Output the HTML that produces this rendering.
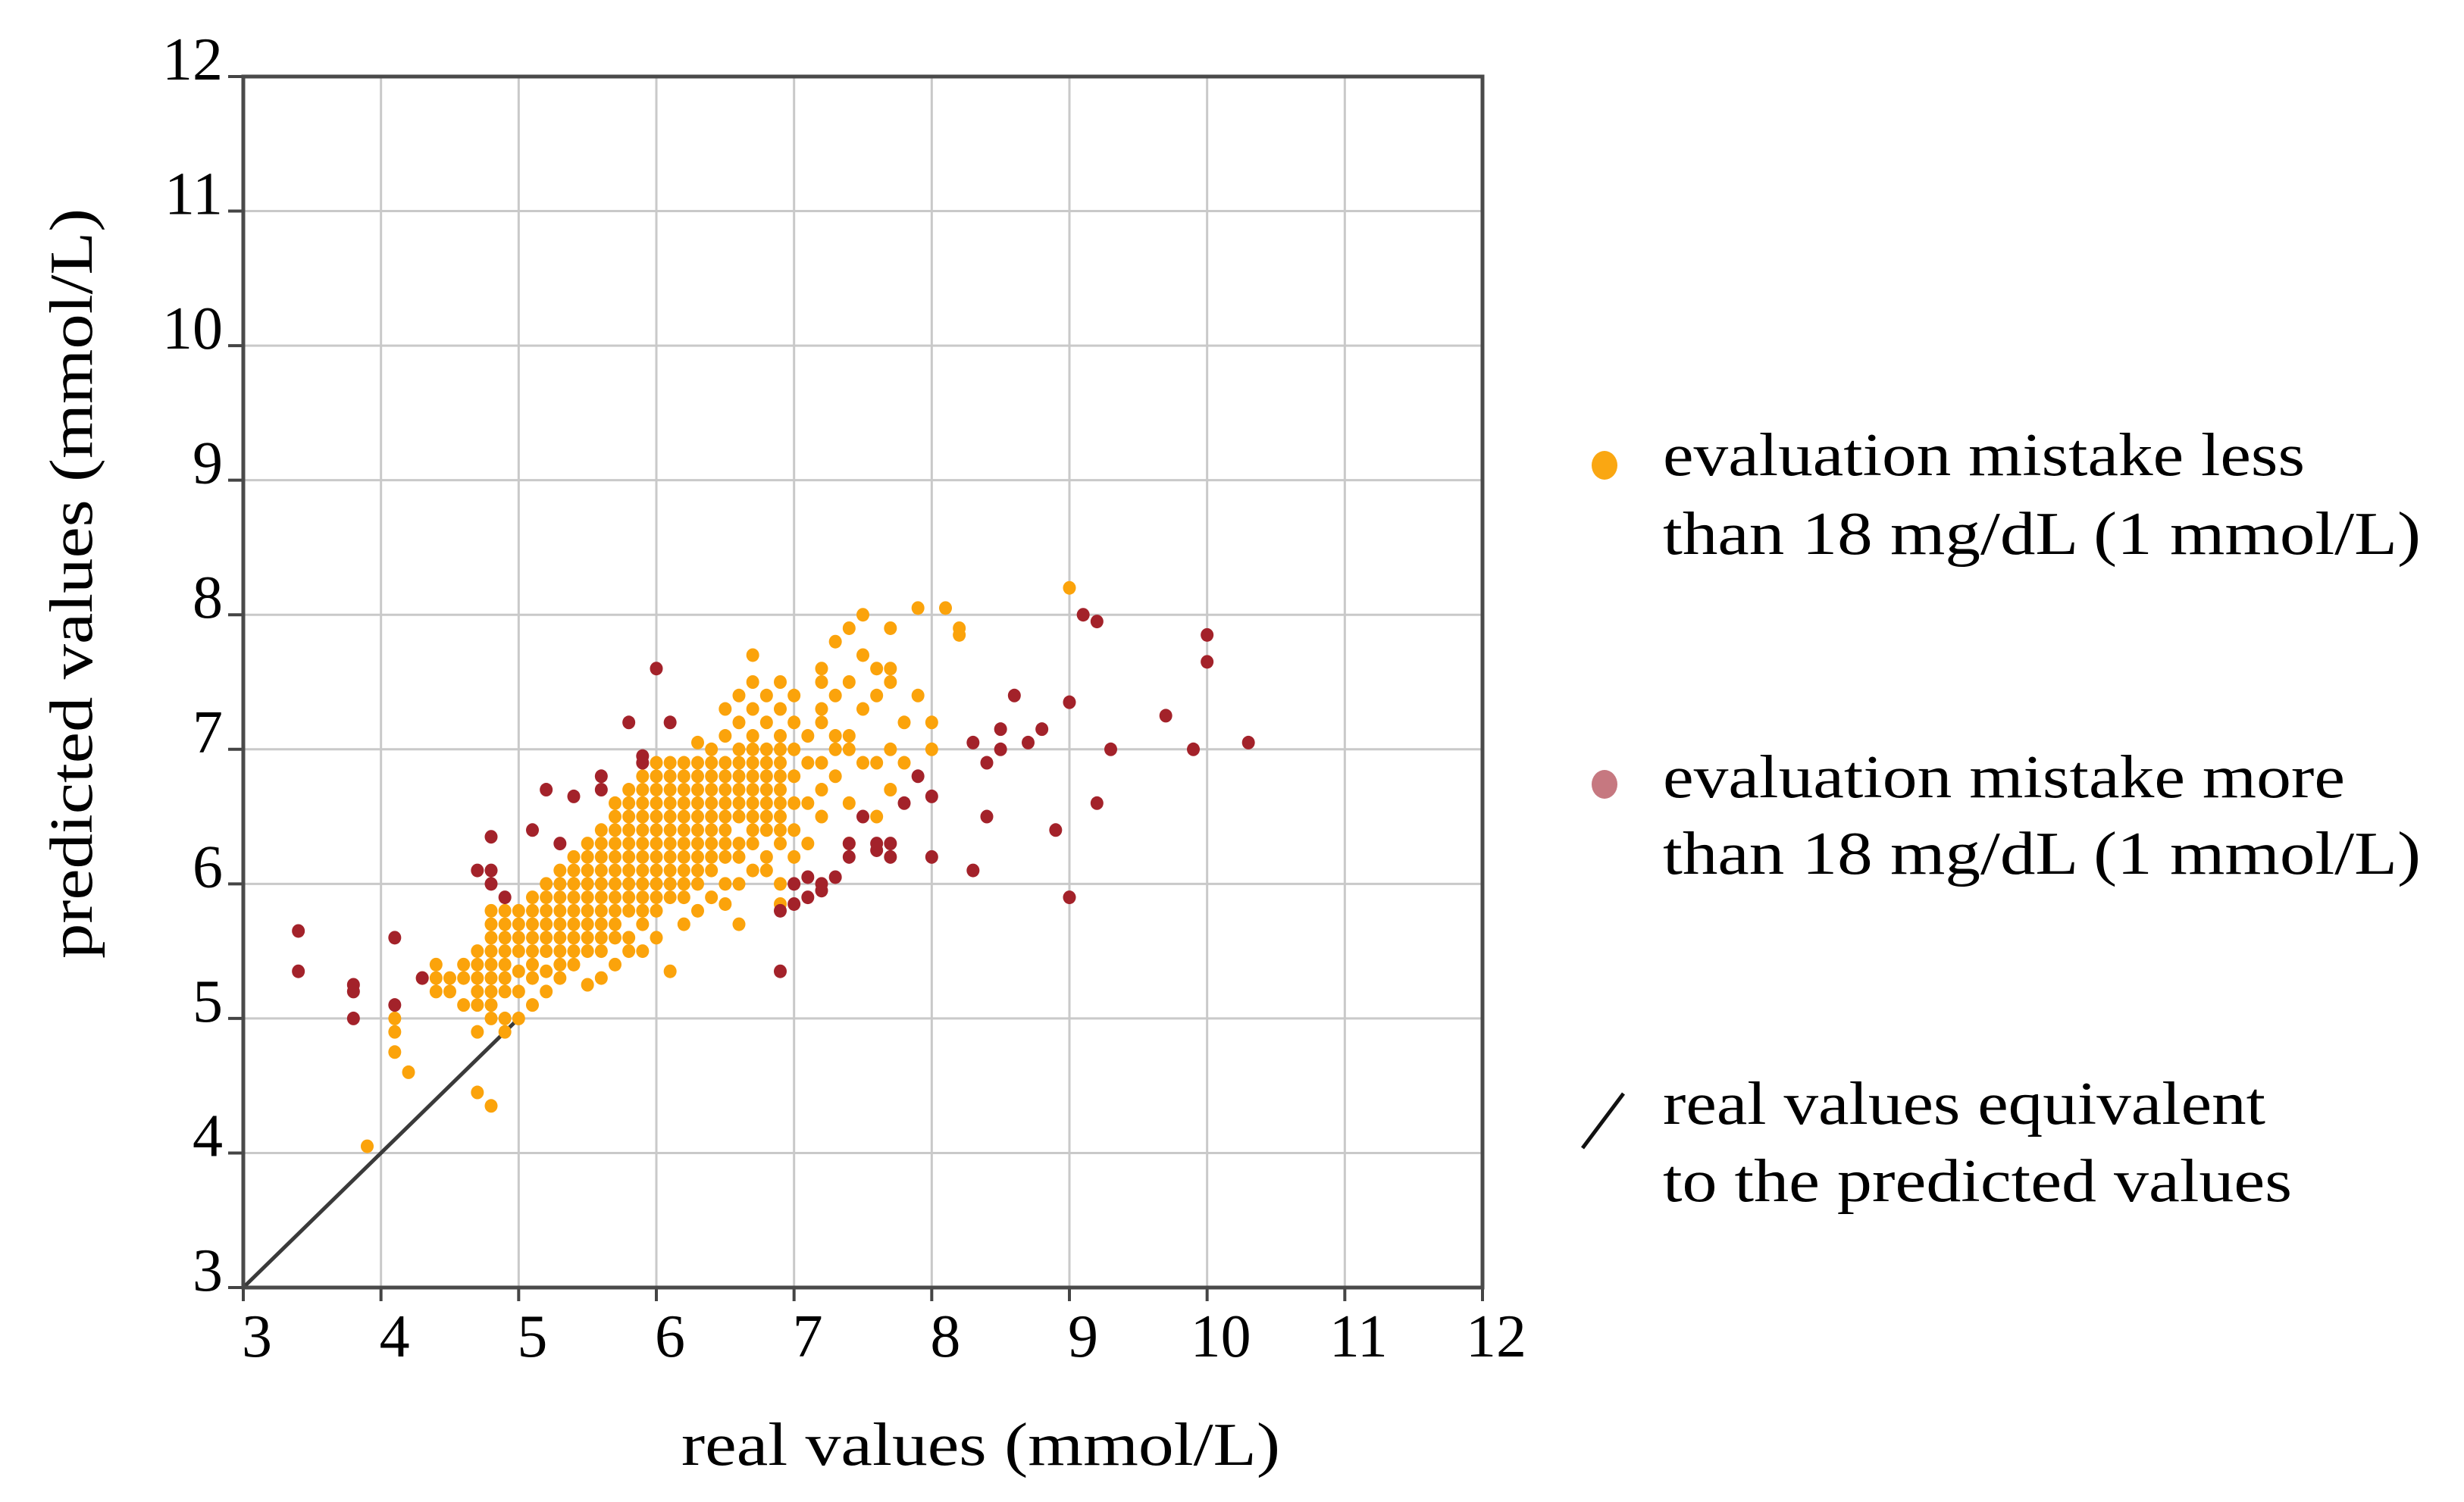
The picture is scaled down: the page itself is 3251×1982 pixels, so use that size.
<!DOCTYPE html>
<html><head><meta charset="utf-8"><style>
html,body{margin:0;padding:0;background:#fff;}
svg{display:block;}
text{font-family:"Liberation Serif",serif;fill:#000;}
</style></head><body>
<svg id="chart" width="3251" height="1982" viewBox="0 0 3251 1982" xmlns="http://www.w3.org/2000/svg">
<g id="grid"></g>
<g id="diag"></g>
<g id="orangeG"></g>
<g id="redG"></g>
<g id="frame"></g>
<g id="ticks"></g>
<text x="1294" y="1933" font-size="80" text-anchor="middle" textLength="790" lengthAdjust="spacingAndGlyphs">real values (mmol/L)</text>
<text transform="translate(121,770) rotate(-90)" font-size="80" text-anchor="middle" textLength="990" lengthAdjust="spacingAndGlyphs">predicted values (mmol/L)</text>
<g>
<ellipse cx="2117" cy="614" rx="17" ry="19" fill="#faa712"/>
<text x="2194" y="627" font-size="80" textLength="847" lengthAdjust="spacingAndGlyphs">evaluation mistake less</text>
<text x="2194" y="731" font-size="80" textLength="1000" lengthAdjust="spacingAndGlyphs">than 18 mg/dL (1 mmol/L)</text>
<ellipse cx="2117" cy="1035" rx="17" ry="19" fill="#c67880"/>
<text x="2194" y="1052" font-size="80" textLength="900" lengthAdjust="spacingAndGlyphs">evaluation mistake more</text>
<text x="2194" y="1153" font-size="80" textLength="1000" lengthAdjust="spacingAndGlyphs">than 18 mg/dL (1 mmol/L)</text>
<line x1="2088" y1="1515" x2="2142" y2="1443" stroke="#111" stroke-width="5"/>
<text x="2194" y="1483" font-size="80" textLength="795" lengthAdjust="spacingAndGlyphs">real values equivalent</text>
<text x="2194" y="1585" font-size="80" textLength="830" lengthAdjust="spacingAndGlyphs">to the predicted values</text>
</g>
</svg>
<script>
const xTicks = [3,4,5,6,7,8,9,10,11,12];
const yTicks = [3,4,5,6,7,8,9,10,11,12];
const orangeX = [3.9,4.1,4.1,4.1,4.2,4.3,4.4,4.4,4.4,4.5,4.5,4.6,4.6,4.6,
4.7,4.7,4.7,4.7,4.7,4.7,4.7,
4.8,4.8,4.8,4.8,4.8,4.8,4.8,4.8,4.8,4.8,
4.9,4.9,4.9,4.9,4.9,4.9,4.9,4.9,4.9,
5.0,5.0,5.0,5.0,5.0,5.0,5.0,
5.1,5.1,5.1,5.1,5.1,5.1,5.1,5.1,
5.2,5.2,5.2,5.2,5.2,5.2,5.2,5.2,
5.3,5.3,5.3,5.3,5.3,5.3,5.3,5.3,5.3,
5.4,5.4,5.4,5.4,5.4,5.4,5.4,5.4,5.4,
5.5,5.5,5.5,5.5,5.5,5.5,5.5,5.5,5.5,5.5,
5.6,5.6,5.6,5.6,5.6,5.6,5.6,5.6,5.6,5.6,5.6,
5.7,5.7,5.7,5.7,5.7,5.7,5.7,5.7,5.7,5.7,5.7,5.7,
5.8,5.8,5.8,5.8,5.8,5.8,5.8,5.8,5.8,5.8,5.8,5.8,
5.9,5.9,5.9,5.9,5.9,5.9,5.9,5.9,5.9,5.9,5.9,5.9,5.9,
6.0,6.0,6.0,6.0,6.0,6.0,6.0,6.0,6.0,6.0,6.0,6.0,6.0,
6.1,6.1,6.1,6.1,6.1,6.1,6.1,6.1,6.1,6.1,6.1,6.1,
6.2,6.2,6.2,6.2,6.2,6.2,6.2,6.2,6.2,6.2,6.2,6.2,
6.3,6.3,6.3,6.3,6.3,6.3,6.3,6.3,6.3,6.3,6.3,6.3,
6.4,6.4,6.4,6.4,6.4,6.4,6.4,6.4,6.4,6.4,6.4,
6.5,6.5,6.5,6.5,6.5,6.5,6.5,6.5,6.5,6.5,6.5,6.5,
6.6,6.6,6.6,6.6,6.6,6.6,6.6,6.6,6.6,6.6,6.6,6.6,
6.7,6.7,6.7,6.7,6.7,6.7,6.7,6.7,6.7,6.7,6.7,6.7,6.7,
6.8,6.8,6.8,6.8,6.8,6.8,6.8,6.8,6.8,6.8,6.8,
6.9,6.9,6.9,6.9,6.9,6.9,6.9,6.9,6.9,6.9,6.9,6.9,6.9,
7.0,7.0,7.0,7.0,7.0,7.0,7.0,
7.1,7.1,7.1,7.1,
7.2,7.2,7.2,7.2,7.2,7.2,7.2,
7.3,7.3,7.3,7.3,7.3,
7.4,7.4,7.4,7.4,7.4,7.4,
7.5,7.5,7.5,7.5,
7.6,7.6,7.6,7.6,
7.7,7.7,7.7,7.7,7.7,
7.8,7.8,7.9,7.9,8.0,8.0,8.1,8.2,8.2,9.0];
const orangeY = [4.05,4.75,4.9,5.0,4.6,5.3,5.2,5.3,5.4,5.2,5.3,5.1,5.3,5.4,
4.45,4.9,5.1,5.2,5.3,5.4,5.5,
4.35,5.0,5.1,5.2,5.3,5.4,5.5,5.6,5.7,5.8,
4.9,5.0,5.2,5.3,5.4,5.5,5.6,5.7,5.8,
5.0,5.2,5.35,5.5,5.6,5.7,5.8,
5.1,5.3,5.4,5.5,5.6,5.7,5.8,5.9,
5.2,5.35,5.5,5.6,5.7,5.8,5.9,6.0,
5.3,5.4,5.5,5.6,5.7,5.8,5.9,6.0,6.1,
5.4,5.5,5.6,5.7,5.8,5.9,6.0,6.1,6.2,
5.25,5.5,5.6,5.7,5.8,5.9,6.0,6.1,6.2,6.3,
5.3,5.5,5.6,5.7,5.8,5.9,6.0,6.1,6.2,6.3,6.4,
5.4,5.6,5.7,5.8,5.9,6.0,6.1,6.2,6.3,6.4,6.5,6.6,
5.5,5.6,5.8,5.9,6.0,6.1,6.2,6.3,6.4,6.5,6.6,6.7,
5.5,5.7,5.8,5.9,6.0,6.1,6.2,6.3,6.4,6.5,6.6,6.7,6.8,
5.6,5.8,5.9,6.0,6.1,6.2,6.3,6.4,6.5,6.6,6.7,6.8,6.9,
5.35,5.9,6.0,6.1,6.2,6.3,6.4,6.5,6.6,6.7,6.8,6.9,
5.7,5.9,6.0,6.1,6.2,6.3,6.4,6.5,6.6,6.7,6.8,6.9,
5.8,6.0,6.1,6.2,6.3,6.4,6.5,6.6,6.7,6.8,6.9,7.05,
5.9,6.1,6.2,6.3,6.4,6.5,6.6,6.7,6.8,6.9,7.0,
5.85,6.0,6.2,6.3,6.4,6.5,6.6,6.7,6.8,6.9,7.1,7.3,
5.7,6.0,6.2,6.3,6.5,6.6,6.7,6.8,6.9,7.0,7.2,7.4,
6.1,6.3,6.4,6.5,6.6,6.7,6.8,6.9,7.0,7.1,7.3,7.5,7.7,
6.1,6.2,6.4,6.5,6.6,6.7,6.8,6.9,7.0,7.2,7.4,
5.85,6.0,6.3,6.4,6.5,6.6,6.7,6.8,6.9,7.0,7.1,7.3,7.5,
6.2,6.4,6.6,6.8,7.0,7.2,7.4,
6.3,6.6,6.9,7.1,
6.5,6.7,6.9,7.2,7.3,7.5,7.6,
6.8,7.0,7.1,7.4,7.8,
6.3,6.6,7.0,7.1,7.5,7.9,
6.9,7.3,7.7,8.0,
6.5,6.9,7.4,7.6,
6.7,7.0,7.5,7.6,7.9,
6.9,7.2,7.4,8.05,7.0,7.2,8.05,7.85,7.9,8.2];
const redX = [3.4,3.4,3.8,3.8,3.8,4.1,4.1,4.3,4.7,4.8,4.8,4.8,4.9,5.1,5.2,5.3,5.4,5.6,5.6,5.8,5.9,5.9,6.0,6.1,6.9,6.9,7.0,7.0,7.1,7.2,7.3,7.4,7.4,7.5,7.6,7.7,7.8,7.9,8.0,8.0,8.3,8.3,8.4,8.4,8.5,8.5,8.6,8.7,8.8,8.9,9.0,9.0,9.1,9.2,9.2,9.3,9.7,9.9,10.0,10.0,10.3,7.2,7.1,7.6,7.7];
const redY = [5.65,5.35,5.25,5.2,5.0,5.6,5.1,5.3,6.1,6.1,6.35,6.0,5.9,6.4,6.7,6.3,6.65,6.8,6.7,7.2,6.95,6.9,7.6,7.2,5.35,5.8,5.85,6.0,5.9,6.0,6.05,6.2,6.3,6.5,6.3,6.3,6.6,6.8,6.65,6.2,6.1,7.05,6.9,6.5,7.15,7.0,7.4,7.05,7.15,6.4,7.35,5.9,8.0,7.95,6.6,7.0,7.25,7.0,7.85,7.65,7.05,5.95,6.05,6.25,6.2];

const NS = 'http://www.w3.org/2000/svg';
const X0 = 321, X1 = 1956, Y0 = 1699, Y1 = 101;
function sx(v){ return X0 + (v - 3) / 9 * (X1 - X0); }
function sy(v){ return Y0 - (v - 3) / 9 * (Y0 - Y1); }
function mk(tag, attrs, parent){
  const e = document.createElementNS(NS, tag);
  for (const k in attrs) e.setAttribute(k, attrs[k]);
  parent.appendChild(e);
  return e;
}
const grid = document.getElementById('grid');
const ticksG = document.getElementById('ticks');
const frame = document.getElementById('frame');
xTicks.forEach(function(t){
  const l = mk('line', {x1:sx(t), x2:sx(t), y1:Y1, y2:Y0, stroke:'#c9c9c9', 'stroke-width':3}, grid);
  
  
  const tk = mk('line', {x1:sx(t), x2:sx(t), y1:Y0, y2:Y0+18, stroke:'#444', 'stroke-width':4}, frame);
  
  
  const tx = mk('text', {x:sx(t)+18, y:1790, 'font-size':80, 'text-anchor':'middle'}, ticksG);
  tx.textContent = t;
  
  
});
yTicks.forEach(function(t){
  const l = mk('line', {x1:X0, x2:X1, y1:sy(t), y2:sy(t), stroke:'#c9c9c9', 'stroke-width':3}, grid);
  
  
  const tk = mk('line', {x1:X0-20, x2:X0, y1:sy(t), y2:sy(t), stroke:'#444', 'stroke-width':4}, frame);
  
  
  const tx = mk('text', {x:294, y:sy(t)+4, 'font-size':80, 'text-anchor':'end'}, ticksG);
  tx.textContent = t;
  
  
});
const fr = mk('rect', {x:X0, y:Y1, width:X1-X0, height:Y0-Y1, fill:'none', stroke:'#4a4a4a', 'stroke-width':5}, frame);


const dl = mk('line', {x1:sx(3), y1:sy(3), x2:sx(5), y2:sy(5), stroke:'#3a3a3a', 'stroke-width':5}, document.getElementById('diag'));


const og = document.getElementById('orangeG');
orangeX.forEach(function(x, i){
  const c = mk('ellipse', {cx:sx(x), cy:sy(orangeY[i]), rx:8.5, ry:9, fill:'#fba30b'}, og);
  
  
});
const rg = document.getElementById('redG');
redX.forEach(function(x, i){
  const c = mk('ellipse', {cx:sx(x), cy:sy(redY[i]), rx:8.5, ry:9, fill:'#a3222a'}, rg);
  
  
});
</script>
</body></html>
